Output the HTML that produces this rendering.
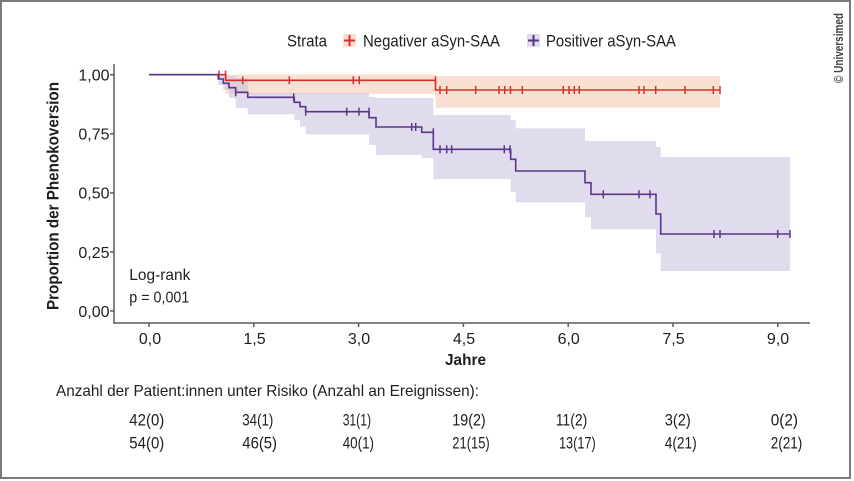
<!DOCTYPE html>
<html><head><meta charset="utf-8"><style>
html,body{margin:0;padding:0;background:#fff;}
svg{display:block;}
text{font-family:"Liberation Sans",sans-serif;fill:#1e1e1e;}
</style></head><body>
<svg width="854" height="481" viewBox="0 0 854 481" xmlns="http://www.w3.org/2000/svg">
<rect x="0" y="0" width="854" height="481" fill="#fff"/>
<rect x="1" y="1" width="849" height="477" fill="#fff" stroke="#7a7a7a" stroke-width="2"/>

<!-- pink CI band -->
<g fill="rgb(250,224,211)">
<rect x="225.7" y="74.5" width="209.8" height="19.5"/>
<rect x="435.5" y="76" width="284.5" height="31.7"/>
</g>
<!-- purple CI band -->
<g fill="rgb(193,183,219)" fill-opacity="0.5">
<rect x="218.3" y="76" width="5" height="9"/>
<rect x="223.3" y="76" width="5.7" height="14"/>
<rect x="229" y="76" width="6.7" height="22"/>
<rect x="235.7" y="78" width="12" height="30"/>
<rect x="247.7" y="93" width="46.6" height="21.3"/>
<rect x="294.3" y="93" width="5.7" height="27"/>
<rect x="300" y="93" width="5.7" height="33.7"/>
<rect x="305.7" y="93" width="63.3" height="41.3"/>
<rect x="369" y="97" width="7" height="48"/>
<rect x="376" y="98" width="45.7" height="57"/>
<rect x="421.7" y="98" width="11.6" height="60"/>
<rect x="433.3" y="115" width="77.4" height="64"/>
<rect x="510.7" y="120" width="5" height="72"/>
<rect x="515.7" y="128.3" width="69.3" height="74"/>
<rect x="585" y="141" width="6" height="76.3"/>
<rect x="591" y="141" width="65" height="88.3"/>
<rect x="656" y="147" width="4.7" height="106.3"/>
<rect x="660.7" y="157" width="129.3" height="114"/>
</g>

<!-- axes -->
<g stroke="#5a5a5a" stroke-width="1.5" fill="none">
<line x1="114" y1="64" x2="114" y2="323.7"/>
<line x1="113.3" y1="323" x2="810" y2="323"/>
<line x1="110" y1="74.7" x2="114" y2="74.7"/>
<line x1="110" y1="133.8" x2="114" y2="133.8"/>
<line x1="110" y1="192.9" x2="114" y2="192.9"/>
<line x1="110" y1="252" x2="114" y2="252"/>
<line x1="110" y1="311" x2="114" y2="311"/>
<line x1="149" y1="323" x2="149" y2="327"/>
<line x1="253.8" y1="323" x2="253.8" y2="327"/>
<line x1="358.6" y1="323" x2="358.6" y2="327"/>
<line x1="463.4" y1="323" x2="463.4" y2="327"/>
<line x1="568.2" y1="323" x2="568.2" y2="327"/>
<line x1="673" y1="323" x2="673" y2="327"/>
<line x1="777.8" y1="323" x2="777.8" y2="327"/>
</g>

<!-- red curve -->
<path d="M149,74.7 H225.7 V80.3 H435.5 V90 H720" fill="none" stroke="#d62f2a" stroke-width="1.6"/>
<g stroke="#d62f2a" stroke-width="1.5">
<line x1="219" y1="70.7" x2="219" y2="78.7"/>
<line x1="225.5" y1="70.7" x2="225.5" y2="78.7"/>
<line x1="242.7" y1="76.3" x2="242.7" y2="84.3"/>
<line x1="289.3" y1="76.3" x2="289.3" y2="84.3"/>
<line x1="353.3" y1="76.3" x2="353.3" y2="84.3"/>
<line x1="359.3" y1="76.3" x2="359.3" y2="84.3"/>
<line x1="435.5" y1="76.3" x2="435.5" y2="84.3"/>
<line x1="440" y1="86" x2="440" y2="94"/>
<line x1="446.7" y1="86" x2="446.7" y2="94"/>
<line x1="475.7" y1="86" x2="475.7" y2="94"/>
<line x1="499" y1="86" x2="499" y2="94"/>
<line x1="504.7" y1="86" x2="504.7" y2="94"/>
<line x1="510.5" y1="86" x2="510.5" y2="94"/>
<line x1="522.3" y1="86" x2="522.3" y2="94"/>
<line x1="563.3" y1="86" x2="563.3" y2="94"/>
<line x1="569" y1="86" x2="569" y2="94"/>
<line x1="574.3" y1="86" x2="574.3" y2="94"/>
<line x1="579.3" y1="86" x2="579.3" y2="94"/>
<line x1="639" y1="86" x2="639" y2="94"/>
<line x1="644" y1="86" x2="644" y2="94"/>
<line x1="655.7" y1="86" x2="655.7" y2="94"/>
<line x1="685" y1="86" x2="685" y2="94"/>
<line x1="713.3" y1="86" x2="713.3" y2="94"/>
<line x1="720" y1="86" x2="720" y2="94"/>
</g>

<!-- purple curve -->
<path d="M149,74.7 H218.3 V79 H223.3 V83.3 H229 V87.7 H235.7 V92.3 H247.7 V97.3 H294.3 V102.3 H300 V106.7 H305.7 V111.7 H369 V117.7 H376 V127 H421.7 V132.3 H433.3 V149.3 H510.7 V159.3 H515.7 V171 H585 V182.7 H591 V194.3 H656 V214 H660.7 V234 H790" fill="none" stroke="#5b3688" stroke-width="1.6"/>
<g stroke="#5b3688" stroke-width="1.5">
<line x1="235.7" y1="88.3" x2="235.7" y2="96.3"/>
<line x1="293.7" y1="93.3" x2="293.7" y2="101.3"/>
<line x1="305.7" y1="107.7" x2="305.7" y2="115.7"/>
<line x1="346.7" y1="107.7" x2="346.7" y2="115.7"/>
<line x1="359" y1="107.7" x2="359" y2="115.7"/>
<line x1="369" y1="107.7" x2="369" y2="115.7"/>
<line x1="411.7" y1="123" x2="411.7" y2="131"/>
<line x1="415.7" y1="123" x2="415.7" y2="131"/>
<line x1="433.3" y1="128.3" x2="433.3" y2="136.3"/>
<line x1="440" y1="145.3" x2="440" y2="153.3"/>
<line x1="446.7" y1="145.3" x2="446.7" y2="153.3"/>
<line x1="451.7" y1="145.3" x2="451.7" y2="153.3"/>
<line x1="504.3" y1="145.3" x2="504.3" y2="153.3"/>
<line x1="510" y1="145.3" x2="510" y2="153.3"/>
<line x1="603.3" y1="190.3" x2="603.3" y2="198.3"/>
<line x1="639" y1="190.3" x2="639" y2="198.3"/>
<line x1="650" y1="190.3" x2="650" y2="198.3"/>
<line x1="714" y1="230" x2="714" y2="238"/>
<line x1="720" y1="230" x2="720" y2="238"/>
<line x1="777.7" y1="230" x2="777.7" y2="238"/>
<line x1="790" y1="230" x2="790" y2="238"/>
</g>

<!-- legend -->
<text x="287" y="46.7" font-size="16.5" textLength="40" lengthAdjust="spacingAndGlyphs">Strata</text>
<rect x="343" y="34" width="13" height="13" fill="rgb(250,224,211)"/>
<line x1="344" y1="40.5" x2="355" y2="40.5" stroke="#d62f2a" stroke-width="2"/>
<line x1="349.5" y1="35" x2="349.5" y2="46" stroke="#d62f2a" stroke-width="2"/>
<text x="363" y="46.7" font-size="16.5" textLength="137" lengthAdjust="spacingAndGlyphs">Negativer aSyn-SAA</text>
<rect x="527" y="34" width="13" height="13" fill="rgb(224,219,237)"/>
<line x1="528" y1="40.5" x2="539" y2="40.5" stroke="#5b3688" stroke-width="2"/>
<line x1="533.5" y1="35" x2="533.5" y2="46" stroke="#5b3688" stroke-width="2"/>
<text x="546" y="46.7" font-size="16.5" textLength="130" lengthAdjust="spacingAndGlyphs">Positiver aSyn-SAA</text>

<!-- y tick labels -->
<g font-size="16" text-anchor="end">
<text x="109.5" y="80.5">1,00</text>
<text x="109.5" y="139.6">0,75</text>
<text x="109.5" y="198.7">0,50</text>
<text x="109.5" y="257.8">0,25</text>
<text x="109.5" y="316.8">0,00</text>
</g>
<!-- x tick labels -->
<g font-size="16" text-anchor="middle">
<text x="150" y="344">0,0</text>
<text x="254.5" y="344">1,5</text>
<text x="359" y="344">3,0</text>
<text x="464" y="344">4,5</text>
<text x="568.7" y="344">6,0</text>
<text x="673.5" y="344">7,5</text>
<text x="778" y="344">9,0</text>
</g>
<text x="445" y="365" font-size="16" font-weight="bold" textLength="41" lengthAdjust="spacingAndGlyphs">Jahre</text>
<text transform="translate(58.5,196) rotate(-90)" font-size="17" font-weight="bold" text-anchor="middle" textLength="228" lengthAdjust="spacingAndGlyphs">Proportion der Phenokoversion</text>

<text x="129.3" y="280" font-size="16" textLength="61" lengthAdjust="spacingAndGlyphs">Log-rank</text>
<text x="129.3" y="302.7" font-size="16" textLength="60" lengthAdjust="spacingAndGlyphs">p = 0,001</text>

<!-- risk table -->
<text x="56" y="396" font-size="16" textLength="423" lengthAdjust="spacingAndGlyphs">Anzahl der Patient:innen unter Risiko (Anzahl an Ereignissen):</text>
<g font-size="17">
<text x="129.3" y="425.7" textLength="35" lengthAdjust="spacingAndGlyphs">42(0)</text>
<text x="242.3" y="425.7" textLength="31" lengthAdjust="spacingAndGlyphs">34(1)</text>
<text x="342.7" y="425.7" textLength="28.3" lengthAdjust="spacingAndGlyphs">31(1)</text>
<text x="452.3" y="425.7" textLength="33.4" lengthAdjust="spacingAndGlyphs">19(2)</text>
<text x="555.7" y="425.7" textLength="31.6" lengthAdjust="spacingAndGlyphs">11(2)</text>
<text x="664.7" y="425.7" textLength="26" lengthAdjust="spacingAndGlyphs">3(2)</text>
<text x="770.7" y="425.7" textLength="27.3" lengthAdjust="spacingAndGlyphs">0(2)</text>
<text x="129.3" y="448.3" textLength="35" lengthAdjust="spacingAndGlyphs">54(0)</text>
<text x="242.3" y="448.3" textLength="34.7" lengthAdjust="spacingAndGlyphs">46(5)</text>
<text x="342.7" y="448.3" textLength="31.3" lengthAdjust="spacingAndGlyphs">40(1)</text>
<text x="452.3" y="448.3" textLength="37.4" lengthAdjust="spacingAndGlyphs">21(15)</text>
<text x="559" y="448.3" textLength="36.7" lengthAdjust="spacingAndGlyphs">13(17)</text>
<text x="664.7" y="448.3" textLength="32" lengthAdjust="spacingAndGlyphs">4(21)</text>
<text x="770.7" y="448.3" textLength="31.6" lengthAdjust="spacingAndGlyphs">2(21)</text>
</g>

<text transform="translate(843,48) rotate(-90)" font-size="12.5" font-weight="bold" text-anchor="middle" textLength="70" lengthAdjust="spacingAndGlyphs" style="fill:#444">© Universimed</text>
</svg>
</body></html>
